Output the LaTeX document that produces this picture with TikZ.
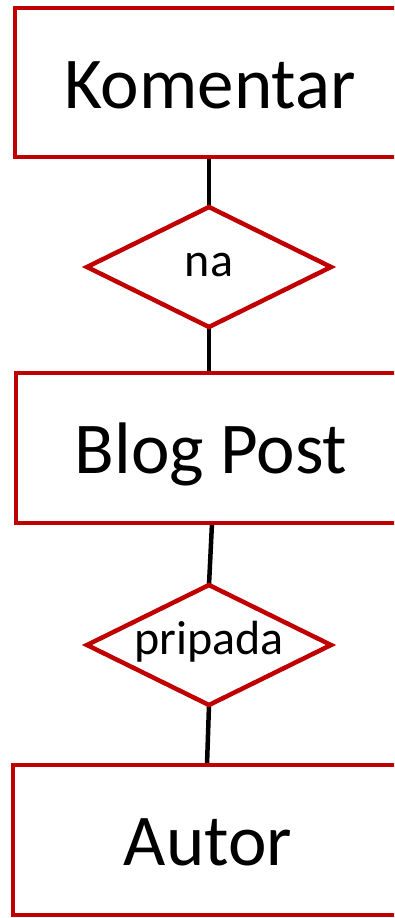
\documentclass[tikz,border=0pt]{standalone}
\usepackage{fontspec}
\setmainfont{Carlito}
\usetikzlibrary{shapes.geometric,backgrounds}
\definecolor{erred}{HTML}{C00000}
\newcommand{\rellabel}[1]{\makebox[0pt]{#1}}
\begin{document}
\begin{tikzpicture}[x=1pt,y=-1pt,
  entity/.style={draw=erred,line width=4.5pt,fill=white,rectangle,minimum width=390pt,minimum height=150pt,inner sep=0pt,outer sep=0pt,font=\fontsize{73}{88}\selectfont,text height=58pt,text depth=7pt},
  relation/.style={draw=erred,line width=4.5pt,fill=white,diamond,minimum width=244pt,minimum height=120pt,inner sep=0pt,outer sep=0pt,font=\fontsize{48}{58}\selectfont,text height=25pt,text depth=6pt},
  link/.style={draw=black,line width=4.5pt}]
\useasboundingbox (0,0) rectangle (394,918);
\clip (0,0) rectangle (394,918);
\node[entity,minimum height=149pt] (kom) at (210,82.5) {Komentar};
\node[relation] (na) at (209,267) {\rellabel{na}};
\node[entity] (blog) at (211,448) {Blog Post};
\node[relation] (prip) at (209,645) {\rellabel{pripada}};
\node[entity] (aut) at (208,840) {Autor};
\begin{scope}[on background layer]
\draw[link] (na.north |- kom.south) -- (na.north);
\draw[link] (na.south) -- (na.south |- blog.north);
\draw[link] ([xshift=1pt]blog.south) -- (prip.north);
\draw[link] (prip.south) -- ([xshift=-1pt]aut.north);
\end{scope}
\end{tikzpicture}
\end{document}
